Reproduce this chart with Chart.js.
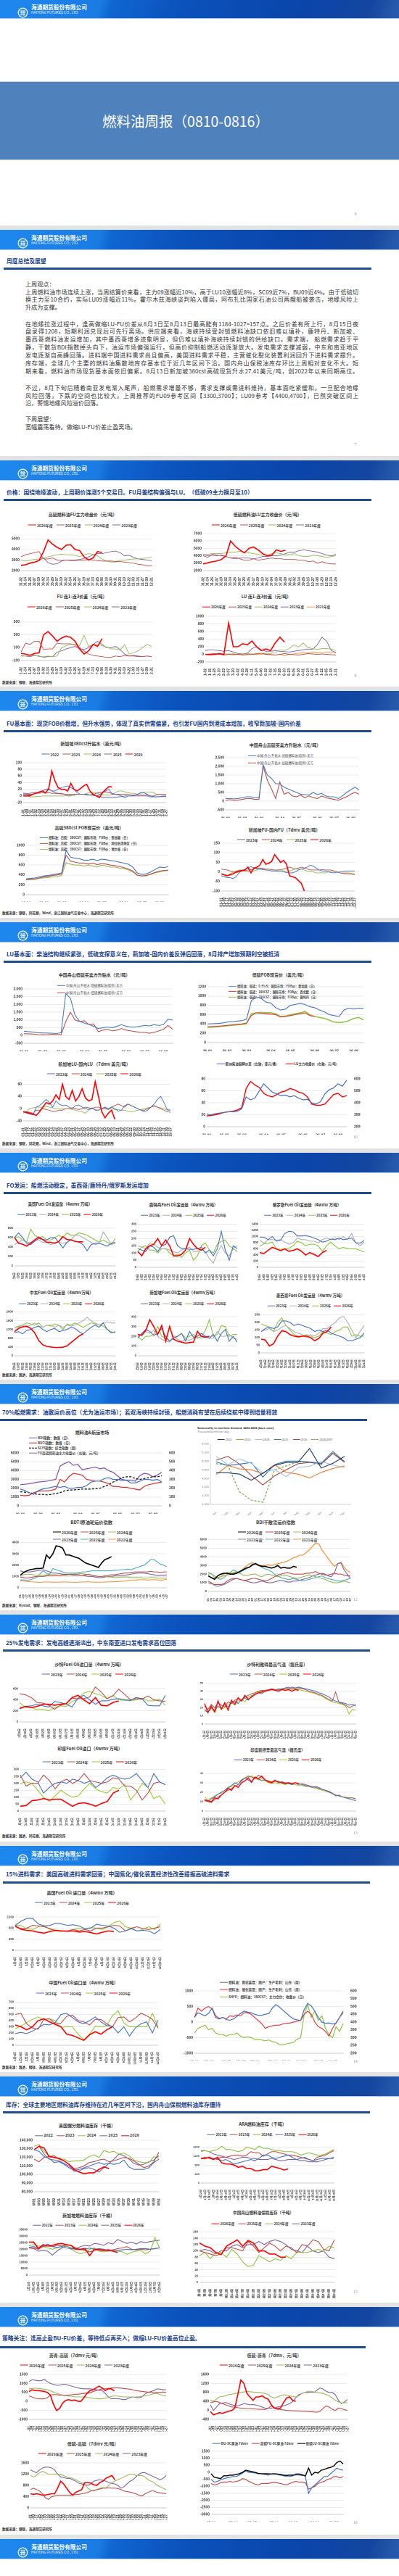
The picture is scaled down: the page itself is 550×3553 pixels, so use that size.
<!DOCTYPE html>
<html><head><meta charset="utf-8">
<script src="https://cdn.jsdelivr.net/npm/chart.js@4.4.0/dist/chart.umd.min.js"></script>
<style>
body{margin:0;width:550px;height:3553px;background:#e3e3e3;position:relative;overflow:hidden;font-family:'Noto Sans CJK SC','Noto Sans',sans-serif;}
div{box-sizing:border-box}
</style></head><body>
<script>
// ===================== TICK LABELS =====================
const L_FU30=['01-02','01-14','01-26','02-07','02-19','03-02','03-14','03-26','04-07','04-19','05-02','05-14','05-26','06-07','06-19','07-01','07-13','07-25','08-06','08-18','08-30','09-11','09-23','10-10','10-22','11-03','11-15','11-27','12-09','12-21'];
const L_LU30=['01-02','01-14','01-26','02-07','02-19','03-02','03-14','03-26','04-07','04-20','05-05','05-17','05-29','06-10','06-22','07-04','07-16','07-28','08-09','08-21','09-02','09-14','09-26','10-15','10-27','11-08','11-20','12-02','12-14','12-26'];
const L_LUS29=['01-02','01-15','01-28','02-10','02-23','03-07','03-20','04-02','04-15','04-28','05-11','05-24','06-06','06-19','07-02','07-15','07-28','08-10','08-23','09-05','09-18','10-01','10-14','10-27','11-09','11-22','12-05','12-18','12-31'];
const L_D46=['01-01','01-09','01-17','01-25','02-02','02-10','02-18','02-26','03-06','03-14','03-22','03-30','04-07','04-15','04-23','05-01','05-09','05-17','05-25','06-02','06-10','06-18','06-26','07-04','07-12','07-20','07-28','08-05','08-13','08-21','08-29','09-06','09-14','09-22','09-30','10-08','10-16','10-24','11-01','11-09','11-17','11-25','12-03','12-11','12-19','12-27'];
const L_MD46=['1月1日','1月9日','1月17日','1月25日','2月2日','2月10日','2月18日','2月26日','3月6日','3月14日','3月22日','3月30日','4月7日','4月15日','4月23日','5月1日','5月9日','5月17日','5月25日','6月2日','6月10日','6月18日','6月26日','7月4日','7月12日','7月20日','7月28日','8月5日','8月13日','8月21日','8月29日','9月6日','9月14日','9月22日','9月30日','10月8日','10月16日','10月24日','11月1日','11月9日','11月17日','11月25日','12月3日','12月11日','12月19日','12月27日'];
const L_MD26=['1月5日','1月19日','2月2日','2月16日','3月2日','3月16日','3月30日','4月13日','4月27日','5月11日','5月25日','6月8日','6月22日','7月6日','7月20日','8月3日','8月17日','8月31日','9月14日','9月28日','10月12日','10月26日','11月9日','11月23日','12月7日','12月21日'];
const L_W26=['26-01','','','','26-02','','','','26-03','','','','','26-04','','','','26-05','','','','','26-06','','','','26-07','','','','26-08','',''];
const L_BIA=['25-01','','','','25-03','','','','','25-05','','','','25-07','','','','25-09','','','','','25-11','','','','26-01','','','','26-03','','','','','26-05','','','','26-07','','',''];
const L_BIB=['25-01','','','','','','','25-04','','','','','','25-07','','','','','','','25-10','','','','','','26-01','','','','','','','26-04','','','','','','26-07','','',''];
const L_MON=['Jan','Feb','Mar','Apr','May','Jun','Jul','Aug','Sep','Oct','Nov','Dec'];
const L_WK=['W01','W03','W05','W07','W09','W11','W13','W15','W17','W19','W21','W23','W25','W27','W29','W31','W33','W35','W37','W39','W41','W43','W45','W47','W49','W51'];
const L_ZW=['第1周','第3周','第5周','第7周','第9周','第11周','第13周','第15周','第17周','第19周','第21周','第23周','第25周','第27周','第29周','第31周','第33周','第35周','第37周','第39周','第41周','第43周','第45周','第47周','第49周','第51周'];
const L_ARA=['1月2日','1月13日','1月24日','2月4日','2月16日','2月27日','3月10日','3月21日','4月1日','4月12日','4月24日','5月5日','5月16日','5月27日','6月7日','6月19日','6月30日','7月11日','7月22日','8月2日','8月14日','8月25日','9月5日','9月16日','9月27日','10月8日','10月21日','11月1日','11月12日','11月23日','12月5日','12月16日','12月28日'];
const L_SG29=['1月1日','1月14日','1月26日','2月8日','2月21日','3月5日','3月18日','3月30日','4月12日','4月24日','5月7日','5月20日','6月1日','6月14日','6月26日','7月9日','7月22日','8月3日','8月16日','8月31日','9月11日','9月23日','10月6日','10月18日','10月31日','11月12日','11月25日','12月7日','12月20日'];

// ===================== SERIES DATA =====================
// p3a 高硫FU主力收盘价
const p3a_2026=[2500,2550,2700,2800,2950,3800,4900,4500,4200,4000,4400,4450,4000,3900,3300,3000,3200,3800,3700];
const p3a_2025=[3300,3500,3600,3700,3800,3100,3100,3200,3000,2950,3000,2950,2950,3000,3000,3050,3000,2950,2900,2900,2900,2850,2850,2800,2750,2700,2600,2550,2450,2450];
const p3a_2024=[3000,2900,3000,3050,3100,3200,3300,3400,3500,3550,3500,3500,3450,3300,3500,3600,3550,3400,3100,2900,2800,2800,3000,3000,3050,3100,3100,3150,3200,3300];
const p3a_2023=[2450,2550,2750,2800,2950,3200,2750,2600,2650,2900,3000,3000,3000,3050,3150,3300,3500,3600,3600,3700,3800,3850,3700,3400,3450,3250,3100,3050,3000,2950];
// p3b 低硫LU主力收盘价
const p3b_2026=[2900,3050,3200,3300,3500,4000,6000,5300,4800,4400,5000,5200,4800,4300,4000,4100,4800,4600,4750];
const p3b_2025=[4200,4000,4100,4000,4100,3900,3700,3800,3600,3400,3400,3600,3400,3500,3600,3700,3600,3600,3500,3500,3500,3400,3400,3200,3300,3000,3200,3000,2900,2900];
const p3b_2024=[4100,4200,4300,4300,4300,4400,4500,4500,4600,4500,4400,4300,4200,4100,4100,4300,4400,4300,4100,4200,4300,4000,3900,3900,4100,4000,3900,3800,3900,4000];
const p3b_2023=[4000,3800,4200,4100,4000,3900,3700,3600,3700,3700,3700,3600,3700,3900,3900,4000,4000,4100,4300,4500,4500,4700,4800,4700,4600,4500,4300,4100,4000,4200];
// p3c FU 连1-连3
const p3c_2026=[10,0,-20,10,20,300,350,280,200,250,280,260,200,80,0,50,150,120,240];
const p3c_2025=[30,170,150,200,200,70,80,80,170,160,160,160,140,100,50,0,-20,-30,-40,-50,-50,-30,-40,-20,-30,-30,-40,-40,-30,-40];
const p3c_2024=[-20,-30,-20,-10,-40,-40,-30,-40,-30,100,130,150,150,130,290,120,150,150,130,110,80,80,60,150,0,20,50,100,150,120];
const p3c_2023=[-30,-30,-40,-20,-30,-50,-40,-40,30,50,80,100,120,80,70,100,150,200,150,100,100,120,70,0,-30,-20,-30,-40,-30,-40];
// p3d LU 连1-连3
const p3d_2026=[0,-10,0,20,0,820,200,200,280,250,350,200,100,140,100,300,450,320];
const p3d_2025=[0,10,20,0,-20,0,10,0,-20,-10,0,20,30,0,-10,-20,0,20,0,-10,-20,0,20,10,0,10,0,-10,-20];
const p3d_2024=[0,0,-10,0,0,10,0,-10,0,20,10,0,30,30,20,50,120,100,150,250,200,300,180,150,130,150,150,140,100];
const p3d_2023=[100,120,110,100,80,100,60,20,10,30,150,200,120,80,80,100,80,70,60,80,100,120,140,130,250,450,350,100,50];
const p3d_2021=[0,0,-10,0,10,0,-20,0,10,0,0,-10,0,10,0,-20,0,-40,0,10,30,50,40,60,50,40,60,50,40];
// p4a 新加坡380cst升贴水
const p4a_2022=[5,5,3,5,10,10,15,20,20,15,15,20,25,28,30,25,20,10,5,5,5,3,2,0,5,10,15,20,5,5,3,0,-5,0,0,2,5,10,10,5,0,-2,-3,-2,0,0];
const p4a_2023=[8,8,5,5,8,8,10,8,10,8,8,7,6,5,5,5,5,5,5,5,3,3,5,8,10,12,12,10,8,5,5,5,5,5,3,3,3,3,3,3,0,0,3,5,5,5];
const p4a_2024=[10,5,-3,-3,-2,-2,0,0,0,0,0,0,0,0,2,2,2,5,5,5,8,10,10,10,5,5,3,3,5,10,15,15,12,10,8,8,5,8,10,12,12,10,5,5,5,5];
const p4a_2025=[5,5,8,10,10,10,15,20,22,15,10,8,8,5,0,0,3,5,5,5,5,3,3,0,0,-5,-5,-3,-5,-5,-3,-2,0,0,0,0,0,0,0,0,-3,-3,-3,-2,-2,-2];
const p4a_2026=[0,0,0,5,8,12,15,10,20,75,45,25,20,20,15,38,20,15,22,30,35,15,5,0,-5,10,20,28,27];
// p4b 舟山高硫升贴水
const p4b_sell=[150,150,130,150,200,250,250,200,200,2100,1500,1300,1000,1000,800,700,600,500,400,380,350,500,380,450,300,250,250,150,300,500,650,800,650];
const p4b_buy=[50,80,50,60,100,150,150,100,100,2000,1200,700,150,1100,400,500,300,250,350,200,300,200,150,300,200,150,100,50,150,250,400,500,400];
// p4c 高硫380cst FOB
const p4c_sg=[320,330,340,360,380,390,410,420,440,900,760,740,730,700,700,720,690,720,710,690,680,660,640,620,560,440,410,420,460,510,560,550,570];
const p4c_ag=[310,315,320,340,360,370,390,400,420,800,680,660,640,640,620,640,610,630,620,600,590,570,550,520,480,400,380,390,420,450,480,490,500];
const p4c_med=[300,305,310,330,340,350,360,370,390,650,620,600,600,580,600,580,560,600,580,560,560,540,530,500,460,390,380,380,410,440,460,480,490];
// p4d 新加坡FU-国内FU
const p4d_2023=[-20,-25,-30,-30,-35,-25,-5,5,15,20,28,20,15,15,12,10,8,5,5,3,2,0,-3,-5,-5,0,10,15,20,25,35,30,20,10,5,5,0,-3,-5,-2,0,2,5,5,5,5];
const p4d_2024=[15,12,10,5,0,-5,0,5,5,10,12,15,20,20,18,15,15,12,10,10,12,15,20,25,20,15,20,25,20,15,10,10,10,10,12,10,10,10,5,0,-5,-8,-10,-10,-12,-15];
const p4d_2025=[-20,-25,-20,-10,0,5,10,10,5,0,0,5,10,15,15,15,15,10,10,8,10,5,5,5,10,15,15,15,10,5,0,0,-5,-5,-5,-5,0,5,5,0,-5,-5,-5,-5,-8,-10];
const p4d_2026=[-10,-15,-20,-15,-10,0,5,8,10,25,-5,20,25,35,65,40,45,55,90,70,50,60,40,-20,-25,-30,-45,-60,-100];
// p5a 舟山低硫升贴水
const p5a_sell=[280,250,220,180,170,160,150,130,180,2700,2400,1300,900,800,700,600,450,500,550,500,600,700,600,550,550,600,650,620,700,650,700,1050,1000];
const p5a_buy=[120,110,90,60,50,60,80,70,50,900,1500,1000,900,950,700,750,250,350,400,300,350,450,350,300,250,200,200,150,200,300,400,650,400];
// p5b 低硫FOB
const p5b_sg=[400,405,410,420,440,450,460,470,500,900,980,950,870,850,750,700,720,800,820,840,820,770,750,700,660,600,580,560,700,740,720,740,730];
const p5b_nwe=[340,345,350,360,370,380,390,400,420,580,640,630,620,610,600,550,560,580,600,620,640,580,560];
const p5b_rtm=[330,330,340,350,360,370,380,390,400,620,640,650,640,640,620,560,570,600,620,640,670,600,560,540,520,480,440,430,440,470,520,540,490];
// p5c 新加坡LU-国内LU
const p5c_2023=[-10,-15,-18,-20,5,10,20,30,20,5,25,15,10,12,5,0,10,12,5,0,-3,3,-5,-5,0,5,0,5,0,-8,-5,10,15,10,5,0,-5,-10,-5,5,15,30,40,20,-3,-5];
const p5c_2024=[-10,-10,-12,-15,-5,-5,0,-3,-5,-10,-8,-5,-5,0,0,3,0,-3,0,5,3,0,5,5,0,0,-3,5,10,15,10,5,15,10,5,0,-5,-5,0,5,10,5,0,-5,-10,-12];
const p5c_2025=[-15,-10,0,3,5,5,5,8,5,3,0,0,0,0,0,-3,-5,-8,-10,-15,-5,0,-3,-5,0,3,0,0,-3,-3,-5,-5,-8,-10,-8,-5,-3,0,3,5,8,5,3,0,-5,-5];
const p5c_2026=[-10,-12,-15,-18,-22,-10,5,20,15,25,45,30,80,40,30,60,25,40,65,35,25,30,88,40,-10,-30,-15,-5,-35];
// p5d 欧洲柴油裂解 & LU
const p5d_crack=[21,20,22,23,24,25,25,26,30,50,45,48,60,72,65,58,55,52,53,50,52,48,45,46,40,38,42,55,62,65,72,68,78];
const p5d_lu=[2900,2950,3000,3100,3200,3250,3300,3400,3600,5200,5800,5500,5300,4800,4600,4500,4700,4900,5000,5200,5100,4900,4800,4500,3900,3800,3800,3900,4300,4700,4800,4500,4600];
// p6 Fuel Oil 发运量
const p6us_2023=[600,700,600,480,450,520,580,560,550,600,600,500,380,500,560,520,500,450,320,450,480,480,450,420,480,500];
const p6us_2024=[450,500,550,500,500,550,550,500,500,450,500,500,480,500,550,650,650,600,550,500,450,480,720,600,450,480];
const p6us_2025=[600,620,550,500,780,650,600,620,550,550,600,650,600,700,650,650,700,680,650,600,550,500,550,500,450,580];
const p6us_2026=[600,480,460,420,480,550,610,560,500,500,480,520,620,560,550,520,510,510];
const p6rt_2023=[130,120,110,150,140,110,150,160,210,220,150,130,130,125,125,130,140,100,120,80,130,250,120,50,150,130];
const p6rt_2024=[150,140,130,170,160,140,130,130,120,110,100,120,130,140,110,110,120,110,60,30,100,150,100,80,130,150];
const p6rt_2025=[110,140,150,120,120,100,130,130,100,80,90,70,100,120,50,80,150,170,120,100,160,180,190,150,130,110];
const p6rt_2026=[110,80,130,150,160,200,150,190,150,80,80,90,120,200,160,130,120,140];
const p6ru_2023=[980,980,900,1000,850,880,1100,1170,1150,1020,1020,1030,1000,950,900,820,850,920,900,950,900,920,950,800,780,870];
const p6ru_2024=[880,780,900,900,880,900,820,750,800,950,900,900,850,850,800,900,950,900,960,900,1000,900,1100,800,700,820];
const p6ru_2025=[680,760,780,820,600,580,600,620,700,850,800,700,750,750,700,520,700,820,700,600,650,600,600,600,550,500];
const p6ru_2026=[480,450,550,650,600,540,600,520,550,600,520,400,480,420,350,480,550];
const p6me_2023=[1050,1100,1000,1150,1200,1300,1350,1200,1100,1200,1250,1100,1150,1200,1300,1250,1100,1000,1150,1300,1400,1300,1500,1200,1050,1100];
const p6me_2024=[1300,1300,1400,1300,1400,1500,1350,1300,1400,1400,1300,1400,1300,1400,1350,1400,1500,1600,1750,1600,1500,1400,1500,1550,1500,1500];
const p6me_2025=[1300,1350,1400,1500,1450,1400,1500,1300,1400,1350,1450,1400,1200,1450,1400,1500,1400,1300,1400,1500,1450,1400,1350,1200,1100,1050];
const p6me_2026=[1100,1250,1320,1350,1250,1050,700,500,430,400,380,380,390,450,600,750,900,1000];
const p6sg_2023=[180,230,270,250,210,230,280,200,150,180,200,230,150,250,190,200,230,200,180,220,150,230,270,150,200,140];
const p6sg_2024=[200,220,250,230,260,200,170,150,140,200,170,150,170,160,180,190,180,200,180,180,250,200,200,220,180,170];
const p6sg_2025=[200,160,200,200,220,300,200,180,150,200,200,230,180,200,220,180,200,260,370,200,220,310,300,200,220,220];
const p6sg_2026=[220,210,260,370,300,220,310,150,300,170,150,140,130,135,140,250,200,190,200];
const p6mx_2023=[140,160,170,160,170,210,210,200,180,190,180,170,160,140,150,140,150,130,120,110,100,80,80,90,100,130];
const p6mx_2024=[140,150,160,140,150,170,180,160,140,130,120,100,120,110,130,160,160,180,200,230,240,200,150,100,140,180];
const p6mx_2025=[190,180,170,140,200,230,180,150,120,110,110,120,110,100,110,140,130,120,140,150,170,170,110,120,110,110];
const p6mx_2026=[90,85,45,60,110,145,140,120,110,105,110,110,100,80,95,130,140,170];
// p7a 燃料油&航运市场
const p7a_bdi=[1900,1750,1500,1300,1700,1900,2000,2100,2200,2100,2200,2000,2000,2100,2100,2300,2700,2800,2800,3100,3200,3000,3000,2900,2900,2600,2600,2800,3000,3000,2900,3000,2700];
const p7a_bdti=[1200,1150,1200,1500,1650,1700,1700,1750,1900,3000,2700,3300,3700,3600,3500,3000,2900,2800,2800,2700,2500,2200,2200,2100,2100,2000,1900,1800,2200,2400,2500,2600,2700];
const p7a_scfi=[1600,1550,1500,1400,1300,1300,1250,1300,1400,1500,1700,1800,1800,1850,1900,1900,1900,1950,2000,2200,2400,2700,2900,3200,3300,3300,3100,3000,3100,3200,3300,3300,3400];
const p7a_fu=[2400,2450,2500,2600,2700,2750,2800,2900,3000,4500,4800,5000,4600,4700,4100,4200,4300,4400,4200,4300,4000,3800,3400,3000,2900,2900,2800,3400,3700,3600,3300,3500,3800];
// p7b Seasonality in maritime demand
const p7b_2022=[4730,4730,4700,4560,4720,4900,4970,4970,5290,4840,4950,5110];
const p7b_2023=[4690,4900,4820,4800,4710,4920,4740,4700,4610,4740,4830,4890];
const p7b_2024=[5110,4920,5050,4950,4730,4810,4640,4850,4880,4990,4910,4850];
const p7b_2025=[4980,4900,4930,4970,4630,4920,5000,5000,4980,4950,5220,4990];
const p7b_2026=[5020,5110,4930,4670,4450,4660,4800,4940,4970,4930,5180,4970];
const p7b_2026p=[4940,4900,4290,4100,4050,4800,4890,4980,4980,4920,5190,4980];
// p7c BDTI
const p7c_2026=[1100,1350,1500,1600,1650,1700,1700,1750,2900,2600,3000,3700,3650,3500,2900,2900,2800,2700,2600,2400,2200,2100,2000,1900,1800,2200,2500,2600,2750];
const p7c_2025=[950,900,850,900,950,1000,1000,1000,1050,1100,1100,1100,1100,1150,1150,1200,1200,1200,1100,1100,1150,1200,1100,1050,1000,1000,1050,1100,1150,1150,1200,1250,1300,1300,1350,1400,1400,1400,1400,1400,1450,1400,1400,1350,1400,1400];
const p7c_2024=[1100,1150,1200,1200,1150,1100,1100,1100,1150,1150,1150,1150,1100,1100,1100,1150,1150,1200,1250,1250,1200,1150,1100,1050,1000,1000,1000,950,950,900,900,950,950,950,900,900,900,900,850,850,900,900,850,850,850,850];
const p7c_2023=[1500,1400,1400,1400,1450,1500,1550,1600,1500,1400,1300,1300,1250,1200,1200,1150,1100,1100,1150,1100,1050,1000,1000,950,900,900,950,1000,1000,1050,1050,1100,1100,1150,1200,1250,1300,1300,1300,1250,1200,1150,1100,1100,1100,1150];
const p7c_2022=[700,700,650,700,800,900,1200,1500,1300,1200,1700,1600,1500,1400,1300,1300,1300,1300,1350,1400,1400,1450,1500,1500,1500,1500,1500,1500,1500,1550,1550,1600,1600,1650,1600,1700,1800,1900,2000,2200,2500,2500,2300,2100,2000,1850];
const p7c_2021=[620,600,560,540,520,500,480,500,520,510,500,490,500,510,520,500,490,480,500,510,520,530,510,500,490,500,510,520,530,540,550,570,600,620,650,660,700,720,710,690,700,720,700,660,700,750];
// p7d BDI
const p7d_2026=[1800,1600,1400,1800,2000,2100,2100,2000,2000,2100,2300,2500,2700,2800,3100,3200,3000,2900,2900,2800,2700,2800,3000,2700,2800,2700,2700,2900,2800];
const p7d_2025=[1000,900,800,800,800,900,1200,1400,1500,1500,1400,1300,1300,1400,1500,1500,1400,1300,1200,1300,1500,1700,1900,2000,2100,2200,2100,2000,2000,2000,2000,2100,2100,2200,2300,2100,2000,1900,1900,2000,2100,2000,2000,1900,1800,1800];
const p7d_2024=[2000,2100,1600,1500,1700,2000,2200,2100,2200,2300,2100,1900,1800,1900,2000,2000,1800,1700,1900,2000,1900,1800,1700,1800,1900,1800,1700,1600,1500,1600,1700,1800,1900,1800,1700,1600,1500,1400,1200,1100,1000,1000,1100,1200,1100,1000];
const p7d_2023=[1200,1000,700,600,700,800,1000,1200,1400,1500,1400,1300,1200,1100,1000,1000,1100,1200,1100,1000,1000,1100,1200,1300,1200,1100,1100,1200,1200,1300,1400,1500,1600,1800,1900,2000,2100,2000,1800,1700,2200,3200,3300,2500,2000,1500];
const p7d_2022=[2200,2000,1800,1500,1400,1600,2000,2200,2500,2300,2200,2400,2600,2800,3000,3300,3000,2800,2600,2500,2300,2000,1800,1600,1500,1400,1400,1500,1400,1300,1200,1300,1400,1500,1600,1700,1800,1600,1500,1400,1300,1200,1200,1300,1400,1500];
const p7d_2021=[1800,1600,1500,1600,1700,1800,1900,2000,2100,2200,2300,2600,2900,3200,3300,3200,3100,3000,3000,3100,3000,3100,3200,3300,3400,3500,3700,3900,4000,4200,4200,4500,4800,5200,5600,5500,4800,4300,3800,3300,2900,3200,3400,2800,2400,2200];
// p8 发电需求
const p8sa_2023=[250,280,290,320,290,270,370,350,320,270,430,480,400,320,380,380,410,420,400,390,440,420,300,290,290,480];
const p8sa_2024=[510,490,440,350,340,300,230,300,330,430,420,420,450,630,540,420,470,590,500,400,420,410,470,400,380,370];
const p8sa_2025=[350,260,260,220,230,200,260,290,280,370,410,520,550,510,480,420,480,400,390,380,400,430,380,380,410,300];
const p8sa_2026=[240,280,260,280,320,320,300,320,330,440,480,400,330,440,300,290,350,380];
const p8ry_2023=[18,14,20,17,22,19,24,21,26,28,25,30,32,29,34,36,38,37,40,41,42,41,43,42,44,45,43,44,45,44,43,42,41,40,38,37,35,33,30,28,27,26,25,23,24,22];
const p8ry_2024=[22,18,24,20,26,23,21,27,25,29,31,28,33,35,37,38,40,41,41,42,43,42,42,43,44,43,45,44,44,43,42,40,39,38,36,35,32,30,28,39,26,25,23,20,22,24];
const p8ry_2025=[16,15,19,14,22,18,20,24,26,23,28,30,27,33,35,37,39,40,41,41,42,42,41,42,43,43,42,43,42,41,40,39,38,37,35,34,31,29,27,26,25,24,22,12,18,17];
const p8ry_2026=[25,14,22,15,28,18,26,17,29,24,32,28,35,30,33,36,38,39,40,41,42,41,40,42,41,42,40,42,41];
const p8in_2023=[240,280,230,210,130,170,200,210,200,230,220,200,215,170,200,240,260,240,230,240,270,220,170,270,210,190];
const p8in_2024=[260,180,200,200,260,220,160,210,230,200,220,270,220,210,200,210,240,230,180,180,150,80,130,200,210,190];
const p8in_2025=[200,210,200,150,100,70,110,150,120,100,110,160,200,160,140,130,170,160,190,80,130,200,170,90,110,50];
const p8in_2026=[35,40,75,80,90,80,85,85,60,35,55,60,50,35,55,70,130,150];
const p8nd_2023=[12,10,13,15,18,20,22,25,27,30,28,32,35,33,30,36,34,32,33,31,30,32,30,31,30,29,28,30,29,28,27,26,25,26,25,23,22,20,19,17,16,15,14,13,12,11];
const p8nd_2024=[11,10,9,12,15,17,20,22,24,26,28,33,35,37,36,34,38,36,33,32,31,33,30,31,30,30,29,30,28,29,28,27,26,25,24,23,22,21,19,16,17,15,14,14,14,13];
const p8nd_2025=[15,12,14,16,18,19,22,24,26,29,31,33,35,36,37,35,33,34,32,30,29,30,29,29,28,29,28,28,27,27,26,26,25,24,23,22,21,20,18,17,16,15,15,14,14,13];
const p8nd_2026=[12,11,10,14,13,17,20,24,22,27,25,30,32,35,31,36,34,37,33,31,30,32,31,30,29,30,29,30,29];
// p9 进料需求
const p9us_2023=[900,1050,1150,1150,950,880,900,980,950,900,920,880,780,800,940,900,880,800,650,700,780,700,720,700,600,750];
const p9us_2024=[850,780,800,900,880,850,780,720,700,700,750,700,750,700,800,800,850,900,880,700,800,850,780,750,800,850];
const p9us_2025=[900,900,780,750,850,900,750,700,680,700,750,800,780,820,800,750,850,1000,1050,850,800,700,750,850,750,950];
const p9us_2026=[880,760,720,700,650,620,680,720,700,690,700,660,680,640,590,650,700,680];
const p9cn_2023=[190,210,190,230,280,340,330,370,500,520,450,380,350,400,460,380,320,310,200,300,150,280,350,380,200,410];
const p9cn_2024=[500,520,350,280,260,420,430,350,360,470,490,400,380,330,420,420,350,300,450,460,380,440,520,480,420,280];
const p9cn_2025=[270,310,370,420,460,420,430,400,290,300,300,180,90,180,310,300,320,480,560,360,300,300,300,300,520,300];
const p9cn_2026=[330,300,250,300,400,430,380,340,300,180,160,120,80,170,220,180,250,300];
const p9_coke=[150,300,250,200,280,450,200,120,150,80,60,100,180,280,350,320,300,250,220,220,250,270,450,560,480,380,280,180,100,70,50,400,600,520,350,150,0,-40,-30,-60,-40,150,350];
const p9_cat=[150,450,350,450,500,420,150,100,150,100,200,180,230,200,300,300,250,150,50,-50,-200,-150,-120,-100,-100,-60,-40,-30,0,30,50,250,350,250,0,-150,-200,-300,-450,-200,-20,150,300];
const p9_fu=[3300,3600,3700,3800,3500,3600,3300,3200,3200,3100,3200,3200,3300,3100,3000,3050,3000,2900,2900,2850,2800,2850,2750,2700,2550,2550,2600,2650,2700,2900,3000,4500,5100,4300,4700,4100,4400,3600,3200,3000,3700,3400,3900];
// p10 库存
const p10us_2022=[129000,127000,121000,119000,114000,115000,112000,108000,105000,106000,108000,110000,112000,114000,112000,113000,112000,113000,117000,109000,106000,106000,106000,108000,114000,118000];
const p10us_2023=[118000,115000,120000,121000,122000,118000,116000,112000,107000,108000,110000,114000,115000,117000,118000,115000,116000,118000,120000,119000,116000,112000,108000,110000,115000,126000];
const p10us_2024=[133000,135000,127000,122000,120000,118000,118000,115000,116000,116000,117000,121000,123000,120000,128000,126000,127000,124000,125000,122000,117000,115000,114000,114000,121000,119000];
const p10us_2025=[129000,133000,124000,118000,117000,116000,113000,110000,104000,104000,107000,108000,106000,103000,108000,113000,118000,124000,122000,118000,113000,111000,112000,115000,117000,122000];
const p10us_2026=[129000,133000,131000,121000,120000,119000,116000,112000,106000,103000,101000,102000,102000,106000,109000,107000];
const p10ara_2022=[1100,1100,1150,1100,1050,1000,1050,950,850,900,950,1000,1050,1000,1100,1250,1250,1150,1100,1150,1200,1250,1150,1050,1100,1150,1050,1000,1050,1100,1100,1100,1150];
const p10ara_2023=[1100,1150,1100,1050,1100,1150,1150,1200,1250,1250,1200,1250,1400,1350,1350,1200,1300,1400,1400,1350,1300,1250,1250,1200,1150,1100,1050,1000,1150,1200,1250,1350,1450];
const p10ara_2024=[1400,1450,1400,1450,1500,1650,1500,1500,1450,1400,1450,1600,1550,1500,1650,1550,1550,1500,1450,1450,1400,1400,1400,1350,1250,1300,1350,1300,1250,1250,1300,1400,1500];
const p10ara_2025=[1450,1450,1400,1300,1250,1200,1150,1100,1050,1100,1150,1150,1100,1100,1050,1050,1050,1100,1050,1000,1000,1050,1050,1050,1000,1000,950,950,950,1000,1050,1100,1100];
const p10ara_2026=[1100,1100,1150,1050,1150,900,850,850,800,700,750,650,650,550,550,600,600,750,700,650,580,630];
const p10sg_2022=[21500,22000,21000,22500,24000,22000,21500,22000,21000,20500,20000,19500,20000,21000,20000,20500,20000,19000,18500,19000,19500,20000,19500,20000,20500,20500,20000,20500,21000];
const p10sg_2023=[21000,21000,20000,22000,22500,22000,23000,22500,23500,23000,21000,20000,19000,18000,19000,20000,19500,18500,19500,20500,21000,22000,20000,19500,20000,19500,20000,20500,21000];
const p10sg_2024=[22500,23500,22500,22000,21000,20000,21000,22000,23000,20000,18000,16500,17500,20000,21000,18500,18000,18500,19000,18500,18000,16000,17500,18500,19000,16500,18500,29000,21000];
const p10sg_2025=[21000,20500,18500,19000,18500,15500,18500,21000,22500,21000,20500,22000,23000,22500,24500,24000,23000,25000,24000,27500,26000,24500,25500,24000,26000,25000,26000,26500,27000];
const p10sg_2026=[25500,25500,20500,23500,22500,23000,24000,24500,23500,23000,20000,20000,20500,15000,20000,19500,19000,19500,18500,17500];
const p10zs_2026=[125,115,110,95,88,115,125,135,115,133,125,100,100,90,90,80,80];
const p10zs_2025=[100,95,90,85,90,110,110,105,100,130,115,95,110,125,115,100,115,110,95,120,115,135,130,105,100,135];
const p10zs_2024=[85,95,75,95,95,80,105,90,65,50,55,85,75,65,75,70,85,75,95,95,95,100,105,100,115,110];
const p10zs_2023=[100,105,100,90,100,100,115,120,110,120,120,130,120,130,135,130,120,105,100,95,115,100,95,100,80,75];
// p11 策略
const p11a_2026=[550,650,600,600,580,560,500,350,-150,-500,-400,-100,50,100,50,80,10,0,200,450,600,650,750,850,750,600,700,700,580];
const p11a_2025=[300,250,180,150,140,150,200,350,380,380,350,350,340,350,370,400,400,420,450,450,480,550,600,650,700,700,720,740,750,750,740,720,700,680,650,600,580,560,540,520,500,480,500,500,520,500];
const p11a_2024=[700,720,740,720,700,680,650,600,520,450,400,350,320,300,280,260,250,250,250,230,200,170,150,140,150,170,220,280,300,300,270,250,250,250,240,250,260,290,300,330,380,430,450,380,330,300];
const p11a_2023=[1100,1200,1180,1150,1150,1230,1100,1000,950,900,900,950,950,900,850,800,750,720,700,700,700,680,650,620,600,450,250,150,150,150,130,100,120,200,250,220,200,250,400,500,550,600,700,680,650,650];
const p11b_2026=[-50,-200,-150,-100,-130,-80,-40,0,100,700,1350,1200,750,600,450,600,600,650,550,500,250,100,80,100,350,550,600,450,400];
const p11b_2025=[350,380,400,350,300,250,200,150,150,120,100,100,80,80,70,60,50,50,40,100,200,100,50,40,20,0,-10,-20,-20,-30,-40,-40,-50,-60,-70,-80,-40,100,200,150,50,0,100,80,30,0];
const p11b_2024=[450,420,500,600,620,650,700,720,750,780,800,820,850,830,820,800,800,780,750,700,600,550,600,650,700,680,650,620,600,650,750,800,850,850,820,800,780,750,700,650,550,450,380,330,340,350];
const p11b_2023=[250,0,150,300,330,350,300,250,220,200,250,300,280,250,260,240,200,150,100,100,100,120,150,180,200,250,300,400,550,700,750,800,800,820,800,900,1000,950,850,800,800,700,450,300,380,480];
const p11c_2026=[500,480,500,480,450,460,480,500,500,700,950,850,700,550,450,550,600,650,900,900,880,820,800,900,950,1050,1100,1150,1000];
const p11c_2025=[650,700,650,600,500,350,300,400,420,450,450,450,440,450,460,470,480,500,520,550,600,620,650,670,700,700,710,700,700,690,650,600,580,560,530,500,450,420,500,550,600,600,550,530,520,500];
const p11c_2024=[1150,1100,1150,1250,1300,1250,1200,1200,1200,1200,1180,1150,1100,1080,1050,1000,950,900,850,700,620,600,650,700,720,700,800,900,950,1000,1050,1100,1150,1200,1200,1150,1150,1150,1100,1000,950,900,800,750,700,650];
const p11c_2023=[1350,1300,1250,1350,1420,1450,1450,1420,1350,1200,1100,1080,1050,1050,1000,950,880,850,820,800,850,950,980,1000,980,950,900,870,850,800,700,750,850,950,1000,1100,1200,1250,1250,1200,1150,1100,1050,1000,1050,1150];
const p11d_bu=[-500,-700,-650,-550,-450,-400,-350,-300,-300,-200,-50,100,0,-20,-50,-100,-100,-150,-200,-120,-120,-150,-200,-250,-300,-300,-250,-100,-100,-150,-300,-1500,-1100,-900,-700,-500,-300,-300,-100,100,300,200,150];
const p11d_fu=[-800,-900,-850,-750,-700,-700,-650,-700,-650,-600,-450,-500,-650,-750,-850,-900,-800,-800,-800,-750,-700,-750,-800,-850,-900,-800,-700,-650,-700,-700,-750,-1200,-1100,-1000,-800,-700,-650,-500,-450,-300,-300,-400,-300];
const p11d_lu=[-100,-350,-400,-450,-250,-250,-200,-200,-150,-100,0,150,100,50,0,-80,-100,-100,-100,-120,-100,-120,-150,-200,-220,-200,-200,-180,-180,-200,-250,300,-200,0,-50,150,200,300,350,450,700,800,600];

// ===================== TEXT =====================
const REPORT_TITLE='燃料油周报（0810-0816）';
const SUMMARY_LINES=[
 ['上周观点：',392,0],
 ['上周燃料油市场连续上涨，当周结算价来看，主力09涨幅近10%，高于LU10涨幅近8%，SC09近7%，BU09近4%。由于低硫切',402.5,1],
 ['换主力至10合约，实际LU09涨幅近11%。霍尔木兹海峡谈判陷入僵局，阿布扎比国家石油公司两艘船被袭击，地缘风险上',413,1],
 ['升成为支撑。',424,0],
 ['在地缘拉涨过程中，逢高做缩LU-FU价差从8月3日至8月13日最高能有1184-1027=157点。之后价差有所上行，8月15日夜',446.5,1],
 ['盘录得1208，短期利润兑现后可先行离场。供应端来看，海峡持续受封锁燃料油缺口依旧难以填补，鹿特丹、新加坡、',457,1],
 ['墨西哥燃料油发运增加，其中墨西哥增多迹象明显，但仍难以填补海峡持续封锁的供给缺口。需求端， 船燃需求趋于平',468,1],
 ['静，干散货BDI指数掉头向下，油运市场偏强运行，但高价抑制船燃活动逐渐放大。发电需求支撑减弱，中东和南亚地区',479,1],
 ['发电逐渐自高峰回落。进料端中国进料需求尚且偏高，美国进料需求平稳，主营催化裂化装置利润回升下进料需求提升。',490,1],
 ['库存端，全球几个主要的燃料油集散地库存基本位于近几年区间下沿。国内舟山保税油库存环比上周相对变化不大。短',501,1],
 ['期来看，燃料油市场现货基本面依旧偏紧。8月13日新加坡380cst高硫现货升水27.41美元/吨，创2022年以来同期高位。',512,1],
 ['不过，8月下旬后随着南亚发电渐入尾声，船燃需求增量不够，需求支撑或需进料维持，基本面吃紧缓和。一旦配合地缘',535,1],
 ['风险回落，下跌的空间也比较大。上周推荐的FU09参考区间【3300,3700】；LU09参考【4400,4700】，已然突破区间上',545.5,1],
 ['沿，警惕地缘风险溢价回落。',556,0],
 ['下周展望：',578,0],
 ['宽幅震荡看待。做缩LU-FU价差止盈离场。',589,0]
];

// ===================== HELPERS =====================
const FONT="'Liberation Sans','Noto Sans CJK SC',sans-serif";
const RED='#ff0000',IRED='#c0504d',GRN='#9bbb59',GRN2='#8cc63f',PUR='#8064a2',BLU='#4472c4',GRY='#b0b0b0',CYN='#4bacc6',ORG='#f79646',BLK='#000000';
function el(css,html){const e=document.createElement('div');e.style.cssText=css;if(html!=null)e.innerHTML=html;document.body.appendChild(e);return e;}
function s(d,c,w,dash,ax){return {d,c,w,dash,ax};}
function fmtv(v,comma){return comma?Number(v).toLocaleString('en-US'):String(v);}
function mk(o){
  const [bl,bt,br,bb]=o.box,[pl,pt,pr,pb]=o.plot;
  const w=br-bl,h=bb-bt;
  const d=el(`position:absolute;left:${bl}px;top:${bt}px;width:${w}px;height:${h}px`);
  const c=document.createElement('canvas');d.appendChild(c);
  const fs=o.fs||5, col=o.tc||'#404040', fw=o.fw||'bold';
  const rot=(o.rot===undefined)?90:o.rot;
  const ds=o.series.map(q=>({data:q.d,borderColor:q.c,backgroundColor:q.c,borderWidth:q.w||0.9,borderDash:q.dash||[],pointRadius:0,tension:0,fill:false,yAxisID:q.ax||'y',spanGaps:true}));
  const tk={font:{size:fs,family:FONT,weight:fw},color:col};
  const scales={
    x:{offset:!!o.offset,grid:{display:false},border:{display:true,color:'#bfbfbf',width:0.7},
       ticks:Object.assign({autoSkip:false,maxRotation:rot,minRotation:rot,padding:1},tk),afterFit:sc=>{sc.height=bb-pb;}},
    y:{min:o.y[0],max:o.y[1],ticks:Object.assign({stepSize:o.y[2],padding:2,callback:v=>fmtv(v,o.comma)},tk),
       grid:{display:o.grid!==false,color:'#d9d9d9',lineWidth:0.6,drawTicks:false},border:{display:!!o.yborder,color:'#bfbfbf',width:0.7},afterFit:sc=>{sc.width=pl-bl;}}
  };
  if(o.y2){scales.y2={position:'right',min:o.y2[0],max:o.y2[1],ticks:Object.assign({stepSize:o.y2[2],padding:2,callback:v=>fmtv(v,o.comma2)},tk),grid:{display:false},border:{display:false},afterFit:sc=>{sc.width=br-pr;}};}
  new Chart(c,{type:'line',data:{labels:o.labels,datasets:ds},options:{animation:false,responsive:true,maintainAspectRatio:false,devicePixelRatio:2,events:[],
    layout:{padding:{top:pt-bt,right:o.y2?0:br-pr,left:0,bottom:0}},plugins:{legend:{display:false},title:{display:false},tooltip:{enabled:false}},scales}});
}
function ttl(cx,cy,t,fs){el(`position:absolute;left:${cx}px;top:${cy}px;transform:translate(-50%,-50%);white-space:nowrap;font-size:${fs||6}px;font-weight:bold;color:#3a3a3a;line-height:1`,t);}
function leg(x,cy,items,o){o=o||{};
  const d=el(`position:absolute;left:${x}px;top:${cy}px;transform:translate(${o.left?'0':'-50%'},-50%);white-space:nowrap;font-size:${o.fs||5}px;font-weight:${o.fw||'bold'};color:${o.col||'#404040'};display:flex;align-items:center;gap:${o.gap===undefined?5:o.gap}px;line-height:1`);
  d.innerHTML=items.map(([t,c,w,dash])=>`<span style="display:inline-flex;align-items:center"><i style="display:inline-block;width:${o.lw||11}px;height:0;border-top:${w||1.2}px ${dash?'dashed':'solid'} ${c};margin-right:1px"></i>${t}</span>`).join('');
}
function legV(x,ys,items,o){items.forEach((it,i)=>leg(x,ys[i],[it],Object.assign({left:true},o||{})));}
function src(y,t){el(`position:absolute;left:3px;top:${y}px;transform:translateY(-50%);font-size:4.6px;font-weight:bold;color:#333;white-space:nowrap;line-height:1`,t);}
function pn(y,n){el(`position:absolute;left:490px;top:${y}px;transform:translate(-50%,-50%);font-size:5.5px;color:#9a9a9a;font-family:'Liberation Serif',serif;line-height:1`,n);}
function sec(ty,ly,t,x0,lx0,lx1){el(`position:absolute;left:${x0}px;top:${ty}px;transform:translateY(-50%);font-size:7.8px;font-weight:bold;color:#203f8f;white-space:nowrap;line-height:1`,t);
  el(`position:absolute;left:${lx0}px;top:${ly-1.5}px;width:${lx1-lx0}px;height:3px;background:#1f4e8c`);}
function banner(top,h){
  el(`position:absolute;left:0;top:${top}px;width:550px;height:${h}px;background:linear-gradient(104deg,#1e88ef 0%,#1a7be3 25%,#1066d2 28%,#0b52bc 45%,#0a45aa 75%,#1446a0 92%,#2a5cad 100%);border-bottom:1px solid #a9c9ef`);
  el(`position:absolute;left:24px;top:${top+h/2-7}px;width:15px;height:15px`,`<svg width="15" height="15" viewBox="0 0 15 15"><circle cx="7.5" cy="7.5" r="6.3" fill="none" stroke="#fff" stroke-width="1.3"/><path d="M3.8 5.2h7.4M3.8 7.6h7.4M3.8 10h7.4M6 3.6v7.8M9 3.6v7.8" stroke="#fff" stroke-width="0.9" fill="none"/></svg>`);
  el(`position:absolute;left:43px;top:${top+h/2-7}px;font-size:7.6px;font-weight:bold;color:#fff;white-space:nowrap;line-height:1;letter-spacing:0.1px`,'海通期货股份有限公司');
  el(`position:absolute;left:43px;top:${top+h/2+2.5}px;font-size:4.6px;color:#e8f0ff;white-space:nowrap;line-height:1;font-family:'Liberation Sans',sans-serif`,'HAITONG FUTURES CO., LTD.');
}

// ===================== PAGES =====================
const B=[0,317,635,953,1272,1590,1909,2227,2546,2864,3182,3502];
for(let i=0;i<11;i++){el(`position:absolute;left:0;top:${B[i]}px;width:550px;height:${B[i+1]-B[i]-6}px;background:#fff`);}
el(`position:absolute;left:0;top:${B[11]}px;width:550px;height:${3553-B[11]}px;background:#fff`);
for(let i=0;i<12;i++)banner(B[i],i===0?26:28);

// cover
el('position:absolute;left:0;top:112px;width:550px;height:1px;background:#d6d6d6');
el('position:absolute;left:0;top:113px;width:550px;height:107px;background:#4f81bd');
el('position:absolute;left:0;top:220px;width:550px;height:1px;background:#d6d6d6');
el('position:absolute;left:256px;top:167px;transform:translate(-50%,-50%);font-size:19.5px;color:#fff;white-space:nowrap;line-height:1',REPORT_TITLE);
pn(296,'6');

// page 2 summary
sec(360,370,'周度总结及展望',9,5,512);
SUMMARY_LINES.forEach(([t,y,j])=>{el(`position:absolute;left:35px;top:${y-5}px;width:459px;height:10px;font-size:8.1px;color:#333;line-height:10px;white-space:nowrap;text-align:${j?'justify':'left'};text-align-last:${j?'justify':'left'}`,t);});
pn(614,'7');

// page 3
sec(679,689,'价格：围绕地缘波动，上周期价连涨5个交易日。FU月差结构偏强与LU。（低硫09主力换月至10）',9,5,512);
const LG4=[['2026年度',RED,1.8],['2025年度',IRED],['2024年度',GRN],['2023年度',PUR]];
ttl(114,710,'高硫燃料油FU主力收盘价（元/吨）');leg(114,724,LG4);
mk({box:[8,731,216,808],plot:[29,735,213,787],labels:L_FU30,y:[2000,5500,500],series:[s(p3a_2026,RED,1.6),s(p3a_2025,IRED),s(p3a_2024,GRN),s(p3a_2023,PUR)]});
ttl(367,710,'低硫燃料油LU主力收盘价（元/吨)');leg(367,724,LG4);
mk({box:[262,731,470,808],plot:[280,735,466,787],labels:L_LU30,y:[2000,7000,1000],series:[s(p3b_2026,RED,1.6),s(p3b_2025,IRED),s(p3b_2024,GRN),s(p3b_2023,PUR)]});
ttl(113,823,'FU 连1-连3价差（元/吨）');leg(113,837,LG4);
mk({box:[8,844,216,930],plot:[29,848,213,911],labels:L_FU30,y:[-100,600,100],series:[s(p3c_2026,RED,1.6),s(p3c_2025,IRED),s(p3c_2024,GRN),s(p3c_2023,PUR)]});
ttl(367,823,'LU 连1-连3价差（元/吨）');leg(367,837,[['2026年度',RED,1.8],['2025年度',IRED],['2024年度',GRN],['2023年度',PUR],['2021年度',ORG]],{fs:4.6,gap:4});
mk({box:[262,845,470,932],plot:[283,849,467,913],labels:L_LUS29,y:[-200,1000,200],series:[s(p3d_2026,RED,1.6),s(p3d_2025,IRED),s(p3d_2024,GRN),s(p3d_2023,PUR),s(p3d_2021,ORG)]});
src(941,'数据来源：钢联、海通期货研究所');pn(933,'8');

// page 4
sec(998,1008,'FU基本面：现货FOB价稳增，但升水强势，体现了真实供需偏紧，也引发FU国内到港成本增加，收窄新加坡-国内价差',9,5,512);
ttl(127,1026,'新加坡380cst升贴水（美元/吨）');leg(127,1040,[['2022',BLU],['2023',IRED],['2024',GRN],['2025',PUR],['2026',RED,1.8]]);
mk({box:[10,1047,236,1126],plot:[32,1051,232,1107],labels:L_D46,y:[-20,100,20],series:[s(p4a_2026,RED,1.6),s(p4a_2022,BLU),s(p4a_2023,IRED),s(p4a_2024,GRN),s(p4a_2025,PUR)]});
ttl(393,1028,'中国舟山高硫买卖方升贴水（元/吨）');
legV(342,[1042,1052],[['中国:舟山:升贴水:高硫燃料油(船供):卖方','#4a7ebb'],['中国:舟山:升贴水:高硫燃料油(船供):买方',IRED]],{fs:4.4,fw:'normal'});
mk({box:[288,1040,499,1128],plot:[311,1044,495,1117],labels:L_W26,rot:0,y:[-500,2500,500],comma:true,series:[s(p4b_sell,'#4a7ebb',1.1),s(p4b_buy,IRED,1.1)]});
ttl(123,1142,'高硫380cst FOB现货价（美元/吨）');
legV(55,[1155,1163,1171],[['燃料油：高硫：380CST：国际市场：FOB价：新加坡（日）',BLU],['燃料油：高硫：380CST：国际市场：FOB价：阿拉伯湾地区（日）',IRED],['燃料油：高硫：380CST：国际市场：FOB价：地中海（日）',GRN]],{fs:4.2});
mk({box:[14,1161,236,1244],plot:[36,1165,232,1234],labels:L_W26,rot:0,y:[0,1000,200],series:[s(p4c_sg,BLU,1.1),s(p4c_ag,IRED,1.1),s(p4c_med,GRN,1.1)]});
ttl(392,1145,'新加坡FU-国内FU（7dmv 美元/吨）');leg(392,1158,[['2023年',BLU],['2024年',IRED],['2025年',GRN],['2026年',RED,1.8]]);
mk({box:[288,1158,496,1254],plot:[305,1162,492,1229],labels:L_D46,y:[-100,150,50],series:[s(p4d_2026,RED,1.6),s(p4d_2023,BLU),s(p4d_2024,IRED),s(p4d_2025,GRN)]});
src(1259,'数据来源：钢联，同花顺，Wind，浙江国际油气交易中心，海通期货研究所');pn(1252,'9');

// page 5
sec(1316,1326,'LU基本面：柴油结构继续紧张，低硫支撑意义在，新加坡-国内价差反弹后回落，8月排产增加预期利空被抵消',9,5,512);
ttl(130,1345,'中国舟山低硫买卖方升贴水（元/吨）');
legV(79,[1359,1369],[['中国:舟山:升贴水:低硫燃料油(船供):卖方','#4a7ebb'],['中国:舟山:升贴水:低硫燃料油(船供):买方',IRED]],{fs:4.4,fw:'normal'});
mk({box:[10,1359,242,1450],plot:[33,1363,238,1439],labels:L_W26,rot:0,y:[-500,3000,500],comma:true,series:[s(p5a_sell,'#4a7ebb',1.1),s(p5a_buy,IRED,1.1)]});
ttl(385,1345,'低硫FOB现货价（美元/吨）');
legV(315,[1360,1367.5,1375],[['燃料油：低硫：0.5%S：国际市场：FOB价：新加坡（日）',BLU],['燃料油：低硫：180CST：国际市场：FOB价：西北欧（日）','#e03c31'],['燃料油：低硫：180CST：国际市场：FOB价：鹿特丹（日）',GRN2,1.8]],{fs:4.2});
mk({box:[268,1356,505,1450],plot:[286,1360,501,1438],labels:L_W26,rot:0,y:[0,1200,200],series:[s(p5b_sg,BLU,1.1),s(p5b_nwe,'#e03c31',1.1),s(p5b_rtm,GRN2,1.5)]});
ttl(130,1468,'新加坡LU-国内LU （7dmv 美元/吨）');leg(130,1481,[['2023年',BLU],['2024年',IRED],['2025年',GRN],['2026年',RED,1.8]]);
mk({box:[10,1482,242,1569],plot:[32,1486,238,1546],labels:L_D46,y:[-40,100,20],series:[s(p5c_2026,RED,1.6),s(p5c_2023,BLU),s(p5c_2024,IRED),s(p5c_2025,GRN)]});
leg(383,1467,[['欧洲柴油裂解价差（左轴，美元/桶）',BLU,1.4],['LU主力收盘价（右轴，元/吨）',RED,1.6]],{fs:4.5,gap:9});
mk({box:[268,1475,497,1565],plot:[285,1479,478,1554],labels:L_W26,rot:0,y:[0,90,10],y2:[2000,6500,500],series:[s(p5d_crack,BLU,1.2),s(p5d_lu,RED,1.4,null,'y2')]});
src(1577,'数据来源：钢联，同花顺，Wind，浙江国际油气交易中心，海通期货研究所');pn(1569,'10');

// page 6
sec(1635,1645,'FO发运：船燃活动稳定，墨西哥/鹿特丹/俄罗斯发运增加',9,5,512);
const LGY=[['2023年',BLU],['2024年',GRY],['2025年',GRN2],['2026年',RED,1.8]];
const o6={fs:4.6,gap:4,lw:10};
ttl(83,1662,'美国Fuel Oil发运量（4wmv 万吨）',5.6);leg(83,1675,LGY,o6);
mk({box:[4,1683,165,1764],plot:[20,1687,162,1746],labels:L_MD26,fs:4.2,y:[0,900,100],series:[s(p6us_2026,RED,1.6),s(p6us_2023,BLU,1.1),s(p6us_2024,GRY,1.1),s(p6us_2025,GRN2,1.1)]});
ttl(253,1663,'鹿特丹Fuel Oil发运量（4wmv 万吨）',5.6);leg(253,1676,LGY,o6);
mk({box:[174,1684,333,1766],plot:[190,1688,330,1748],labels:L_MD26,fs:4.2,y:[0,300,50],series:[s(p6rt_2026,RED,1.6),s(p6rt_2023,BLU,1.1),s(p6rt_2024,GRY,1.1),s(p6rt_2025,GRN2,1.1)]});
ttl(423,1663,'俄罗斯Fuel Oil发运量（4wmv 万吨）',5.6);leg(423,1676,LGY,o6);
mk({box:[338,1684,508,1766],plot:[358,1688,505,1748],labels:L_MD26,fs:4.2,y:[0,1400,200],series:[s(p6ru_2026,RED,1.6),s(p6ru_2023,BLU,1.1),s(p6ru_2024,GRY,1.1),s(p6ru_2025,GRN2,1.1)]});
ttl(85,1784,'中东Fuel Oil发运量（4wmv万吨）',5.6);leg(85,1798,LGY,o6);
mk({box:[4,1805,165,1890],plot:[20,1809,162,1870],labels:L_MD26,fs:4.2,y:[0,2000,200],series:[s(p6me_2026,RED,1.6),s(p6me_2023,BLU,1.1),s(p6me_2024,GRY,1.1),s(p6me_2025,GRN2,1.1)]});
ttl(253,1784,'新加坡Fuel Oil发运量（4wmv万吨）',5.6);leg(253,1798,LGY,o6);
mk({box:[174,1805,333,1890],plot:[190,1809,330,1870],labels:L_MD26,fs:4.2,y:[0,450,50],series:[s(p6sg_2026,RED,1.6),s(p6sg_2023,BLU,1.1),s(p6sg_2024,GRY,1.1),s(p6sg_2025,GRN2,1.1)]});
ttl(428,1788,'墨西哥Fuel Oil发运量（4wmv 万吨）',5.6);leg(428,1801,LGY,o6);
mk({box:[338,1809,508,1887],plot:[360,1813,505,1866],labels:L_MD26,fs:4.2,y:[0,250,50],series:[s(p6mx_2026,RED,1.6),s(p6mx_2023,BLU,1.1),s(p6mx_2024,GRY,1.1),s(p6mx_2025,GRN2,1.1)]});
src(1896,'数据来源：路透、海通期货研究所');pn(1888,'11');

// page 7
sec(1948,1958,'70%船燃需求：油散运价高位（尤为油运市场）；若双海峡持续封锁，船燃消耗有望在后续绕航中得到增量释放',3,0,506);
ttl(127,1976,'燃料油&航运市场');
legV(40,[1983,1990,1997,2004],[['BDI指数：数值（日）',BLU,1.3],['BDTI指数：数值（日）','#d9302c',1.3],['SCFI指数：综合指数（周）',BLK,1.3,true],['FU高硫燃料油主力收盘价（右轴，元/吨）','#7f4fb0',1.3]],{fs:4.6});
mk({box:[10,1999,241,2088],plot:[28,2003,223,2077],labels:L_W26,rot:0,y:[0,6000,1000],y2:[0,6000,1000],series:[s(p7a_bdi,BLU,1.2),s(p7a_bdti,'#d9302c',1.2),s(p7a_scfi,BLK,1.2,[3,2]),s(p7a_fu,'#7f4fb0',1.2,null,'y2')]});
el('position:absolute;left:272px;top:1968px;font-size:4px;font-weight:bold;color:#222;white-space:nowrap;line-height:1;font-family:Liberation Sans,sans-serif','Seasonality in maritime demand, 2022-2026 (base case)');
el('position:absolute;left:272px;top:1974px;font-size:3.8px;color:#7f7f7f;white-space:nowrap;line-height:1;font-family:Liberation Sans,sans-serif','Thousand barrels per day');
leg(379,1985,[['2022','#1f3864'],['2023','#ed7d31'],['2024','#9dc3e6'],['2025','#2e75b6'],['2026','#a9443f'],['2026 prev','#70ad47',1.2,true]],{fs:4,fw:'normal',col:'#595959',gap:6,lw:10});
mk({box:[270,1987,487,2090],plot:[290,1991,483,2075],labels:L_MON,rot:45,offset:true,fs:4,fw:'normal',tc:'#7f7f7f',grid:false,yborder:true,y:[4000,5400,200],comma:true,
  series:[s(p7b_2022,'#1f3864',1.1),s(p7b_2023,'#ed7d31',1.1),s(p7b_2024,'#9dc3e6',1.1),s(p7b_2025,'#2e75b6',1.1),s(p7b_2026,'#a9443f',1.1),s(p7b_2026p,'#70ad47',1.2,[3,2])]});
ttl(126,2100,'BDTI原油轮运价指数',6.2);
leg(73,2113,[['2026年度',BLK,1.8],['2025年度',IRED],['2024年度',GRN]],{left:true,gap:4});
leg(73,2123,[['2023年度',PUR],['2022年度',CYN],['2021年度',ORG]],{left:true,gap:4});
mk({box:[10,2123,236,2205],plot:[28,2127,232,2190],labels:L_D46,fs:4.2,y:[0,4000,500],series:[s(p7c_2026,BLK,1.6),s(p7c_2025,IRED,1.1),s(p7c_2024,GRN,1.1),s(p7c_2023,PUR,1.1),s(p7c_2022,CYN,1.1),s(p7c_2021,ORG,1.1)]});
ttl(380,2100,'BDI干散货运价指数',6.2);
leg(328,2113,[['2026年度',BLK,1.8],['2025年度',IRED],['2024年度',GRN]],{left:true,gap:4});
leg(328,2123,[['2023年度',PUR],['2022年度',CYN],['2021年度',ORG]],{left:true,gap:4});
mk({box:[270,2119,489,2209],plot:[287,2123,485,2195],labels:L_D46,fs:4.2,y:[0,6000,1000],series:[s(p7d_2026,BLK,1.6),s(p7d_2025,IRED,1.1),s(p7d_2024,GRN,1.1),s(p7d_2023,PUR,1.1),s(p7d_2022,CYN,1.1),s(p7d_2021,ORG,1.3)]});
src(2214,'数据来源：Rystad、钢联、海通期货研究所');pn(2207,'12');

// page 8
sec(2266,2276,'25%发电需求：发电高峰逐渐淡出，中东南亚进口发电需求高位回落',8,4,510);
const LG8=[['2023年',BLU],['2024年',IRED],['2025年','#9acd32'],['2026年',RED,1.8]];
ttl(123,2296,'沙特Fuel Oil进口量（4wmv 万吨）');leg(123,2309,LG8);
mk({box:[8,2317,234,2398],plot:[27,2321,230,2375],labels:L_MD26,fs:4.2,y:[0,700,100],series:[s(p8sa_2026,RED,1.6),s(p8sa_2023,BLU,1.1),s(p8sa_2024,IRED,1.1),s(p8sa_2025,'#9acd32',1.1)]});
ttl(382,2296,'沙特利雅得最高气温（摄氏度）');leg(382,2309,LG8);
mk({box:[268,2317,496,2398],plot:[282,2321,492,2378],labels:L_MD46,fs:3.8,y:[0,50,10],series:[s(p8ry_2026,RED,1.4),s(p8ry_2023,BLU,1),s(p8ry_2024,IRED,1),s(p8ry_2025,'#9acd32',1)]});
ttl(124,2412,'印度Fuel Oil进口（4wmv 万吨）');leg(124,2430,LG8);
mk({box:[8,2436,234,2518],plot:[28,2440,230,2498],labels:L_MD26,fs:4.2,y:[0,300,50],series:[s(p8in_2026,RED,1.6),s(p8in_2023,BLU,1.1),s(p8in_2024,IRED,1.1),s(p8in_2025,'#9acd32',1.1)]});
ttl(383,2415,'印度新德里最高气温（摄氏度）',5.4);leg(383,2427,LG8,{fs:4.5,gap:4});
mk({box:[268,2435,496,2518],plot:[282,2439,492,2498],labels:L_MD46,fs:3.8,y:[0,45,5],series:[s(p8nd_2026,RED,1.4),s(p8nd_2023,BLU,1),s(p8nd_2024,IRED,1),s(p8nd_2025,'#9acd32',1)]});
src(2532,'数据来源：路透、同花顺、海通期货研究所');pn(2529,'13');

// page 9
sec(2585,2596,'15%进料需求：美国高硫进料需求回落；中国焦化/催化装置经济性改善提振高硫进料需求',8,4,510);
ttl(113,2611,'美国Fuel Oil 进口量（4wmv 万吨）');leg(113,2624,LG8);
mk({box:[4,2632,227,2716],plot:[21,2636,223,2690],labels:L_MD26,fs:4.2,y:[0,1400,200],series:[s(p9us_2026,RED,1.6),s(p9us_2023,BLU,1.1),s(p9us_2024,IRED,1.1),s(p9us_2025,'#9acd32',1.1)]});
ttl(115,2735,'中国Fuel Oil进口量（4wmv 万吨）');leg(115,2749,LG8);
mk({box:[4,2757,224,2848],plot:[21,2761,220,2821],labels:L_MD26,fs:4.2,y:[0,700,100],series:[s(p9cn_2026,RED,1.6),s(p9cn_2023,BLU,1.1),s(p9cn_2024,IRED,1.1),s(p9cn_2025,'#9acd32',1.1)]});
legV(303,[2734,2744,2754],[['燃料油：焦化装置：国产：生产毛利：山东（周）',BLU,1.3],['燃料油：催化装置：国产：生产毛利：山东（周）','#e04040',1.3],['SHFE：燃料油：380CST：主力合约：收盘价（日）',GRN2,1.3]],{fs:4.6});
mk({box:[250,2741,492,2842],plot:[268,2745,473,2832],labels:L_BIA,rot:0,y:[-1000,1000,500],y2:[2000,6000,500],series:[s(p9_coke,BLU,1.2),s(p9_cat,'#e04040',1.2),s(p9_fu,GRN2,1.2,null,'y2')]});
src(2851,'数据来源：路透、钢联、海通期货研究所');pn(2844,'14');

// page 10
sec(2903,2913,'库存：全球主要地区燃料油库存维持在近几年区间下沿，国内舟山保税燃料油库存僵持',8,4,510);
const LG10=[['2022',BLU],['2023',IRED],['2024',GRN2],['2025',PUR],['2026',RED,1.8]];
const LG10b=[['2022年',BLU],['2023年',IRED],['2024年',GRN2],['2025年',PUR],['2026年',RED,1.8]];
ttl(120,2932,'美国馏分燃料油库存（千桶）');leg(120,2946,LG10,{fs:5.4});
mk({box:[18,2947,226,3042],plot:[47,2951,222,3023],labels:L_WK,y:[80000,140000,10000],comma:true,series:[s(p10us_2026,RED,1.6),s(p10us_2022,BLU,1.1),s(p10us_2023,IRED,1.1),s(p10us_2024,GRN2,1.1),s(p10us_2025,PUR,1.1)]});
ttl(362,2930,'ARA燃料油库存（千吨）');leg(362,2944,LG10b,{fs:4.6,gap:4});
mk({box:[260,2951,466,3036],plot:[277,2955,462,3011],labels:L_ARA,fs:4,y:[0,1800,200],series:[s(p10ara_2026,RED,1.6),s(p10ara_2022,BLU,1.1),s(p10ara_2023,IRED,1.1),s(p10ara_2024,GRN2,1.1),s(p10ara_2025,PUR,1.1)]});
ttl(122,3056,'新加坡燃料油库存（千桶）');leg(122,3069,LG10b,{fs:4.6,gap:4});
mk({box:[18,3071,226,3163],plot:[40,3075,222,3138],labels:L_SG29,fs:4.2,y:[0,35000,5000],series:[s(p10sg_2026,RED,1.6),s(p10sg_2022,BLU,1.1),s(p10sg_2023,IRED,1.1),s(p10sg_2024,GRN2,1.1),s(p10sg_2025,PUR,1.1)]});
ttl(363,3053,'中国舟山燃料油保税库存（千吨）',5.6);leg(363,3067,[['2026年度',RED,1.8],['2025年度',IRED],['2024年度',GRN2],['2023年度',PUR]],{fs:4.6});
mk({box:[260,3074,467,3174],plot:[275,3078,463,3148],labels:L_ZW,fs:4.2,y:[0,160,20],series:[s(p10zs_2026,RED,1.6),s(p10zs_2025,IRED,1.1),s(p10zs_2024,GRN2,1.1),s(p10zs_2023,PUR,1.1)]});
pn(3162,'15');

// page 11
sec(3225,3237,'策略关注：逢高止盈BU-FU价差，等待低点再买入；做缩LU-FU价差高位止盈。',3,0,504);
ttl(103,3249,'沥青-高硫（7dmv 元/吨）');leg(103,3262,LG4);
mk({box:[20,3270,236,3354],plot:[40,3274,232,3337],labels:L_D46,y:[-1000,1500,500],series:[s(p11a_2026,RED,1.6),s(p11a_2025,IRED,1.1),s(p11a_2024,GRN,1.1),s(p11a_2023,PUR,1.1)]});
ttl(378,3249,'低硫-沥青（7dmv，元/吨）');leg(378,3262,LG4);
mk({box:[270,3270,486,3354],plot:[290,3274,482,3337],labels:L_D46,y:[-400,1600,200],series:[s(p11b_2026,RED,1.6),s(p11b_2025,IRED,1.1),s(p11b_2024,GRN,1.1),s(p11b_2023,PUR,1.1)]});
ttl(128,3371,'低硫-高硫（7dmv 元/吨）');leg(128,3384,LG4);
mk({box:[22,3392,236,3476],plot:[42,3396,232,3459],labels:L_D46,y:[0,1600,200],series:[s(p11c_2026,RED,1.6),s(p11c_2025,IRED,1.1),s(p11c_2024,GRN,1.1),s(p11c_2023,PUR,1.1)]});
leg(380,3370,[['BU-SC原油 7dmv',BLU,1.3],['高硫FU-SC原油 7dmv',IRED,1.3],['低硫LU-SC原油 7dmv',BLK,1.6]],{fs:4.6,gap:5});
mk({box:[270,3376,477,3478],plot:[291,3380,473,3468],labels:L_BIB,rot:0,y:[-3000,1500,500],series:[s(p11d_lu,BLK,1.4),s(p11d_bu,BLU,1.2),s(p11d_fu,IRED,1.2)]});
src(3488,'数据来源：钢联、海通期货研究所');pn(3480,'16');
</script>
</body></html>
